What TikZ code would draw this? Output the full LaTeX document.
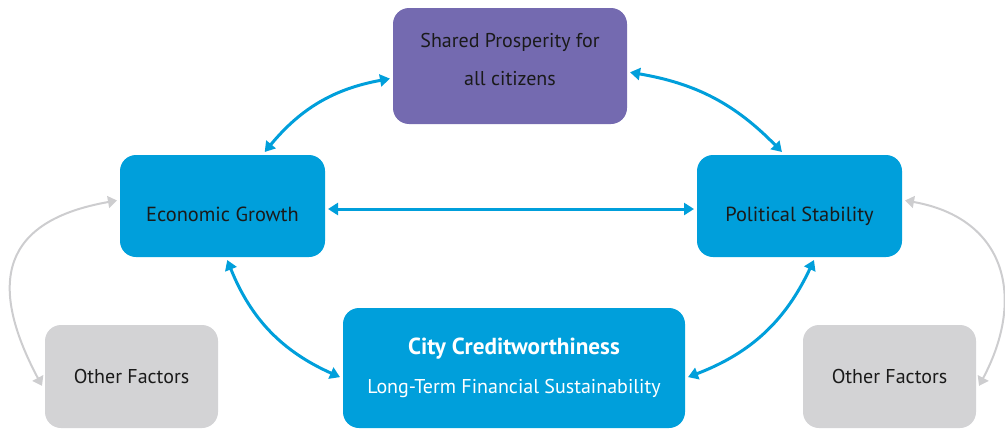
\documentclass[tikz,border=0pt]{standalone}
\usepackage{fontspec}
\setmainfont{PT Sans}
\usetikzlibrary{arrows.meta}
\definecolor{cityblue}{HTML}{009FDB}
\definecolor{sharedpurple}{HTML}{746AB0}
\definecolor{factorgrey}{HTML}{D3D3D5}
\definecolor{linkgrey}{HTML}{CDCDCF}
\definecolor{boxtext}{HTML}{1A1A1A}
\begin{document}
\begin{tikzpicture}[x=0.5pt,y=0.5pt,inner sep=0pt,outer sep=1.5pt,
goalbox/.style={fill=sharedpurple,rounded corners=8pt,minimum width=117pt,minimum height=58pt,align=center,text=boxtext,text depth=6.5pt,font=\fontsize{10}{19}\selectfont},
pillar/.style={fill=cityblue,rounded corners=8pt,minimum width=102.5pt,minimum height=51pt,text=boxtext,text height=15pt,text depth=0pt,font=\fontsize{10.2}{12}\selectfont},
basebox/.style={fill=cityblue,rounded corners=8pt,minimum width=171pt,minimum height=60pt,align=center,text=white,font=\fontsize{10}{19.5}\selectfont},
otherbox/.style={fill=factorgrey,rounded corners=8pt,minimum width=86.5pt,minimum height=51.5pt,text=boxtext,font=\fontsize{10}{12}\selectfont},
link/.style={draw=cityblue,line width=1.5pt,{Triangle[length=5pt,width=6pt]}-{Triangle[length=5pt,width=6pt]}},
sidelink/.style={draw=linkgrey,line width=1pt,{Triangle[length=4.5pt,width=6pt]}-{Triangle[length=4.5pt,width=6pt]}}]
\useasboundingbox (0,0) rectangle (1005,-428);
% boxes
\draw (510,-66) node[goalbox] (shared) {Shared Prosperity for\\all citizens};
\draw (222.5,-206) node[pillar] (growth) {Economic Growth};
\draw (799.5,-206) node[pillar] (stability) {Political Stability};
\draw (514,-368) node[basebox] (credit) {{\fontsize{11.6}{12}\selectfont\bfseries City Creditworthiness}\\Long-Term Financial Sustainability};
\draw (131.5,-376.5) node[otherbox] (otherL) {Other Factors};
\draw (889.5,-376.5) node[otherbox] (otherR) {Other Factors};
% links between the blue boxes
\draw[link] (growth.52) to[bend left=20] (shared.186);
\draw[link] (shared.-3) to[bend left=18] (stability.108);
\draw[link] ([yshift=-1.5pt]growth.east) -- ([yshift=-1.5pt]stability.west);
\draw[link] (growth.-85) to[bend right=22] (credit.183);
\draw[link] (stability.-75) to[bend left=22] (credit.-3);
% other factors
\draw[sidelink] (growth.177) to[out=190,in=118,looseness=1.5] (otherL.186);
\draw[sidelink] (stability.3) to[out=-10,in=62,looseness=1.3] (otherR.-6);
\end{tikzpicture}
\end{document}
